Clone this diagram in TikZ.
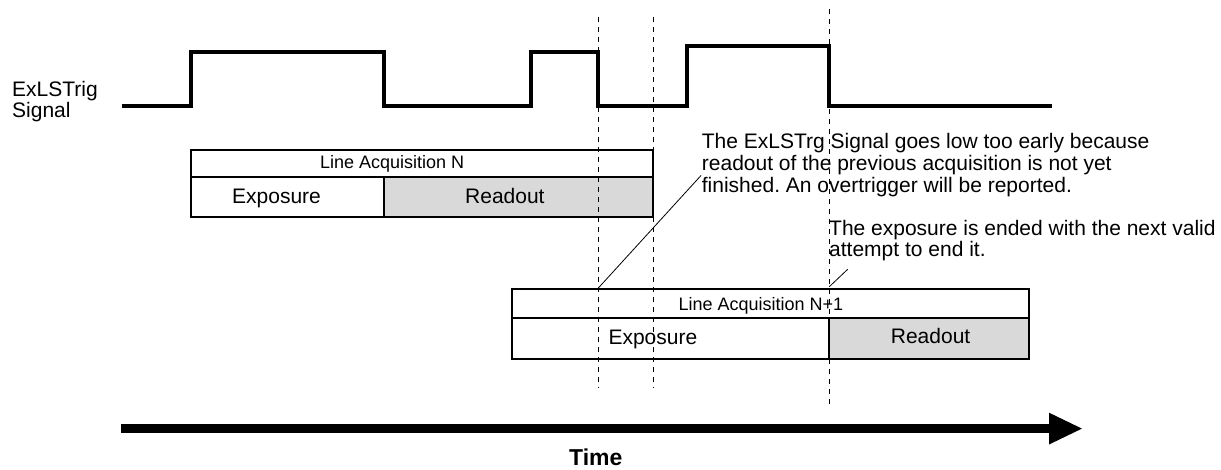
\documentclass[tikz,border=0pt]{standalone}
\usepackage{fontspec}
\setmainfont{Liberation Sans}
\usetikzlibrary{arrows.meta}
\definecolor{readgray}{RGB}{217,217,217}
\frenchspacing
\tikzset{
	sig/.style={line width=4pt,line join=miter},
	cell/.style={draw,line width=2pt},
	guide/.style={line width=0.9pt,dash pattern=on 5pt off 5pt},
	callout/.style={line width=0.8pt},
	txt/.style={inner sep=0pt,font=\fontsize{21}{22}\selectfont},
	small/.style={inner sep=0pt,font=\fontsize{18}{20}\selectfont}
}
\begin{document}
\begin{tikzpicture}[x=1pt,y=-1pt]
	\useasboundingbox (0,0) rectangle (1221,470);
	% trigger signal
	\node[txt,align=left,anchor=north west,font=\fontsize{21}{20.3}\selectfont] (sigtext) at (12,81.4) {ExLSTrig\\Signal};
	\draw[sig] (121.7,106) -- (191,106) -- (191,52.5) -- (384,52.5) -- (384,106) -- (530.7,106) -- (530.7,52.5) -- (597.7,52.5) -- (597.7,106)
		-- (686.7,106) -- (686.7,45.7) -- (829,45.7) -- (829,106) -- (1051.7,106);
	% acquisition N
	\draw[cell] (190.7,149.7) rectangle (653.3,177.3);
	\draw[cell] (190.7,177.3) rectangle (384,217.5);
	\draw[cell,fill=readgray] (384,177.3) rectangle (653.3,217.5);
	\node[small,anchor=base west] (hdrN) at (320,169) {Line Acquisition N};
	\node[txt,anchor=base west] (expN) at (232,204) {Exposure};
	\node[txt,anchor=base west] (rdN) at (465,204) {Readout};
	% acquisition N+1
	\draw[cell] (511.7,289) rectangle (1029.3,318);
	\draw[cell] (511.7,318) rectangle (829.3,358.7);
	\draw[cell,fill=readgray] (829.3,318) rectangle (1029.3,358.7);
	\node[small,anchor=base west] (hdrNN) at (678.3,310.7) {Line Acquisition N+1};
	\node[txt,anchor=base west] (expNN) at (608.3,344.3) {Exposure};
	\node[txt,anchor=base west] (rdNN) at (890.7,344) {Readout};
	% guide lines
	\draw[guide] (598.3,17) -- (598.3,388);
	\draw[guide] (653.3,17) -- (653.3,388);
	\draw[guide] (829.3,9.3) -- (829.3,405);
	% notes
	\node[txt,align=left,anchor=north west] (noteearly) at (701.7,132.8) {The ExLSTrg Signal goes low too early because\\readout of the previous acquisition is not yet\\finished. An overtrigger will be reported.};
	\node[txt,align=left,anchor=north west,font=\fontsize{21}{20.5}\selectfont] (notevalid) at (829,220.3) {The exposure is ended with the next valid\\attempt to end it.};
	\coordinate (earlytop) at (701,175.5);
	\coordinate (earlyend) at (599,287.3);
	\coordinate (validtop) at (847.7,269.3);
	\coordinate (validend) at (829.3,286.7);
	\draw[callout] (earlytop) -- (earlyend);
	\draw[callout] (validtop) -- (validend);
	% time axis
	\coordinate (t0) at (121,428.6);
	\coordinate (t1) at (1083,428.6);
	\draw[line width=8.6pt,-{Triangle[length=34pt,width=29pt]}] (t0) -- (t1);
	\node[inner sep=0pt,anchor=base west,font=\fontsize{23}{23}\selectfont\bfseries] (timetext) at (569,465) {Time};
\end{tikzpicture}
\end{document}
